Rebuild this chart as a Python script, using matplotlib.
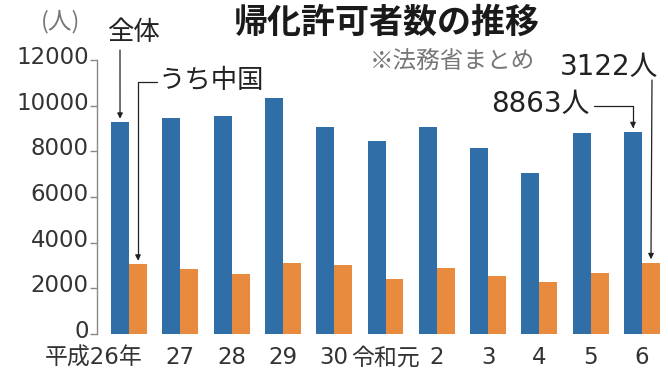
import matplotlib
matplotlib.use("Agg")
import matplotlib.pyplot as plt
import matplotlib.transforms as mtransforms
import numpy as np

plt.rcParams["font.family"] = ["Noto Sans CJK JP", "DejaVu Sans"]

years = ["平成26年", "27", "28", "29", "30", "令和元", "2", "3", "4", "5", "6"]
total = [9277, 9469, 9554, 10315, 9074, 8453, 9079, 8167, 7059, 8800, 8863]
china = [3060, 2830, 2610, 3100, 3040, 2400, 2900, 2540, 2280, 2670, 3122]

BLUE = "#2f6ea6"
ORANGE = "#e98b3e"
W = 0.35
W_PX, H_PX = 668, 378
NUM_FONT = ["DejaVu Sans", "Noto Sans CJK JP"]


def fig_px(x, y):
    # picture pixels from the top-left corner -> figure fraction
    return (x / W_PX, 1 - y / H_PX)


fig = plt.figure(figsize=(6.68, 3.78), dpi=100)
ax = fig.add_axes([97 / 668, 44 / 378, 565 / 668, 274 / 378])

x = np.arange(len(years))
ax.bar(x - W / 2, total, width=W, color=BLUE)
ax.bar(x + W / 2, china, width=W, color=ORANGE)

ax.set_xlim(-0.624, 10.39)
ax.set_ylim(0, 12000)
ax.set_yticks(np.arange(0, 12001, 2000))
ax.tick_params(axis="y", direction="out", length=5, width=1, color="#888888",
               labelsize=16.5, labelcolor="#333333", pad=1)
ax.set_xticks(x)
ax.set_xticklabels(years)
ax.tick_params(axis="x", length=0, labelsize=16.5, labelcolor="#333333", pad=9)
for lab in ax.get_yticklabels() + ax.get_xticklabels():
    lab.set_family(NUM_FONT)
# y labels sit a little above their ticks
for lab in ax.get_yticklabels():
    lab.set_transform(lab.get_transform() + mtransforms.ScaledTranslation(0, 0.05, fig.dpi_scale_trans))
first = ax.get_xticklabels()[0]
first.set_ha("right")
first.set_transform(first.get_transform() + mtransforms.ScaledTranslation(0.14, 0, fig.dpi_scale_trans))

for side in ["top", "right", "bottom"]:
    ax.spines[side].set_visible(False)
ax.spines["left"].set_color("#888888")
ax.spines["left"].set_linewidth(1)

fig.text(*fig_px(387, 22), "帰化許可者数の推移", fontsize=24.5, fontweight="bold",
         color="#1a1a1a", ha="center", va="center")
fig.text(*fig_px(452, 61), "※法務省まとめ", fontsize=17, color="#777777", ha="center", va="center")
fig.text(*fig_px(61, 22), "(人)", fontsize=17, color="#777777", ha="center", va="center")
fig.text(*fig_px(133, 33), "全体", fontsize=19, color="#222222", ha="center", va="center")
fig.text(*fig_px(211, 81), "うち中国", fontsize=19, color="#222222", ha="center", va="center")
fig.text(*fig_px(540, 104), "8863人", fontsize=20, color="#222222", ha="center", va="center",
         family=NUM_FONT)
fig.text(*fig_px(609, 67), "3122人", fontsize=20, color="#222222", ha="center", va="center",
         family=NUM_FONT)

arrow = dict(arrowstyle="-|>", color="#222222", lw=0.9, mutation_scale=8, shrinkA=0, shrinkB=0)
ax.annotate("", xy=(0 - W / 2, total[0] + 150), xytext=fig_px(120, 50),
            textcoords="figure fraction", arrowprops=arrow)
ax.annotate("", xy=(0 + W / 2, china[0] + 150), xytext=fig_px(157, 82),
            textcoords="figure fraction",
            arrowprops=dict(arrow, connectionstyle="angle,angleA=180,angleB=90,rad=0"))
ax.annotate("", xy=(10 - W / 2, total[10] + 150), xytext=fig_px(594, 106),
            textcoords="figure fraction",
            arrowprops=dict(arrow, connectionstyle="angle,angleA=0,angleB=90,rad=0"))
ax.annotate("", xy=(10 + W / 2, china[10] + 150), xytext=fig_px(652, 80),
            textcoords="figure fraction", arrowprops=arrow)

fig.savefig("out.png", dpi=100)
